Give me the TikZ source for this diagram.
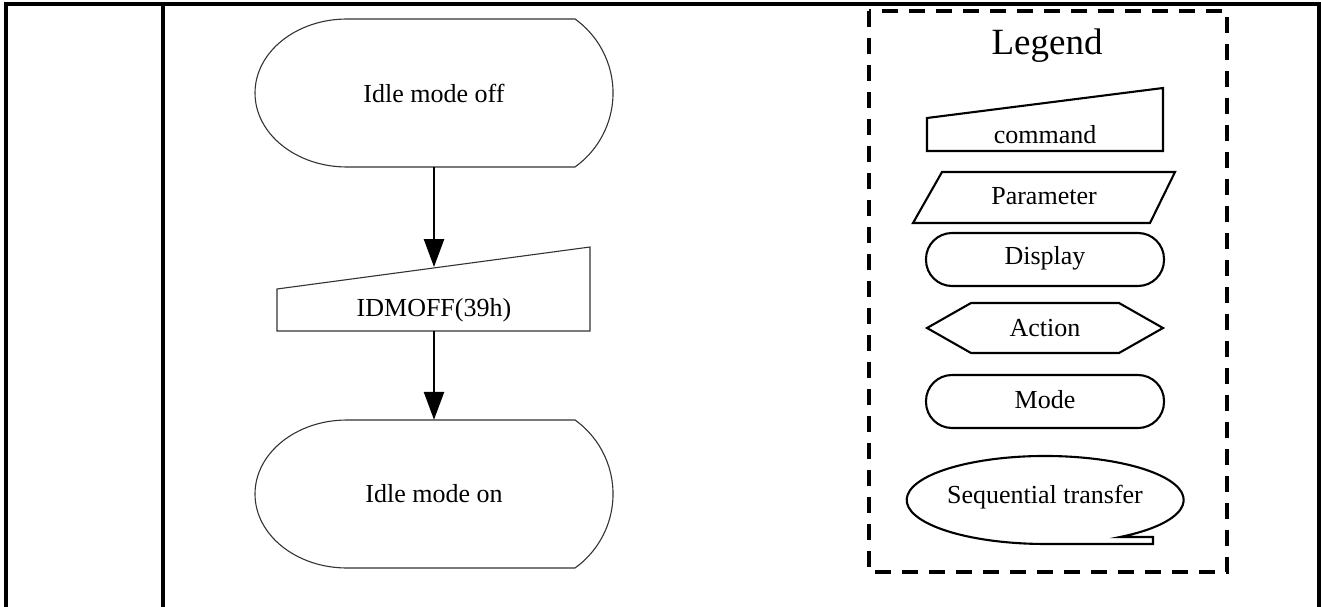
\documentclass[tikz,border=0pt]{standalone}
\usepackage{fontspec}
\setmainfont{Liberation Serif}
\usetikzlibrary{arrows.meta}
\tikzset{
  shp/.style={draw=none, inner sep=0pt, font=\fontsize{26}{31}\selectfont},
  outl/.style={draw=black!80, line width=1.1pt},
  lgd/.style={draw=black, line width=2.1pt},
  flow/.style={line width=2.6pt, -{Triangle[length=28pt,width=20pt]}},
  framel/.style={line width=3.6pt, line join=miter},
  legendbox/.style={line width=3.2pt, dash pattern=on 16pt off 11pt},
}
\begin{document}
\begin{tikzpicture}[x=1pt,y=1pt]
\useasboundingbox (0,0) rectangle (1321,-607);
% table frame
\draw[framel] (6,-607) -- (6,-4) -- (1319,-4) -- (1319,-607);
\draw[framel] (163,-4) -- (163,-607);

% flow nodes
\node[shp, minimum width=358pt, minimum height=148pt] (off) at (434,-93) {Idle mode off};
\draw[outl] (347,-19) -- (575,-19) arc[start angle=54.4,end angle=-54.4,radius=91pt]
  -- (347,-167) arc[start angle=270,end angle=90,x radius=92pt,y radius=74pt] -- cycle;

\node[shp, minimum width=313pt, minimum height=42pt] (cmd) at (434,-310) {IDMOFF(39h)};
\draw[outl] (277,-331) -- (277,-289) -- (590,-247) -- (590,-331) -- cycle;
\coordinate (cmdin) at (434,-267);

\node[shp, minimum width=358pt, minimum height=148pt] (on) at (434,-494) {Idle mode on};
\draw[outl] (347,-420) -- (575,-420) arc[start angle=54.4,end angle=-54.4,radius=91pt]
  -- (347,-568) arc[start angle=270,end angle=90,x radius=92pt,y radius=74pt] -- cycle;

\draw[flow] (off.south) -- (cmdin);
\draw[flow] (cmd.south) -- (on.north);

% legend
\draw[legendbox] (869,-11) rectangle (1227,-572);
\node[shp, font=\fontsize{37}{44}\selectfont, anchor=base] (lgdtitle) at (1047,-55) {Legend};

\node[shp] (lcmd) at (1045,-135) {command};
\draw[lgd] (927,-151) -- (927,-118) -- (1163,-88) -- (1163,-151) -- cycle;

\node[shp] (lpar) at (1044,-196) {Parameter};
\draw[lgd] (913,-223) -- (942,-172) -- (1175,-172) -- (1150,-223) -- cycle;

\node[shp] (ldisp) at (1045,-258) {Display};
\draw[lgd, rounded corners=26pt] (926,-233) rectangle (1164,-286);

\node[shp] (lact) at (1045,-328) {Action};
\draw[lgd] (927,-328) -- (971,-303) -- (1119,-303) -- (1163,-328) -- (1119,-353) -- (971,-353) -- cycle;

\node[shp] (lmode) at (1045,-400) {Mode};
\draw[lgd, rounded corners=26pt] (926,-375) rectangle (1164,-428);

\node[shp] (lseq) at (1045,-497) {Sequential transfer};
\draw[lgd] (1120,-537) arc[start angle=-57.3,end angle=270,x radius=138.5pt,y radius=44pt]
  -- (1153,-544) -- (1153,-537) -- cycle;
\end{tikzpicture}
\end{document}
